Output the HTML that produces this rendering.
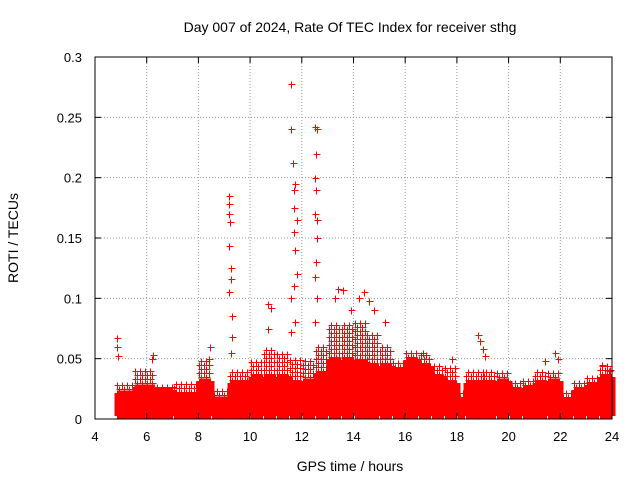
<!DOCTYPE html>
<html><head><meta charset="utf-8"><style>
body{margin:0;background:#fff}
svg{display:block;font-family:"Liberation Sans",sans-serif}
</style></head><body>
<svg id="c" width="640" height="480">
<text x="350" y="32" font-size="14" text-anchor="middle">Day 007 of 2024, Rate Of TEC Index for receiver sthg</text>
<text x="350" y="471" font-size="14" text-anchor="middle">GPS time / hours</text>
<text transform="translate(18,238) rotate(-90)" font-size="14" text-anchor="middle">ROTI / TECUs</text>
<g id="grid"></g><g id="marks"></g>
<rect x="95" y="57" width="517" height="362" fill="none" stroke="#000"/>
<g id="ticks"></g>
</svg>
<script>
const xTicks=[4,6,8,10,12,14,16,18,20,22,24];
const yTicks=[0,0.05,0.1,0.15,0.2,0.25,0.3];
const yTickLabels=["0","0.05","0.1","0.15","0.2","0.25","0.3"];
const binStarts=[4.8,5.5,6.3,7,8,8.5,9.2,10,10.5,11,11.5,12,12.5,13,13.5,14,14.5,15,15.5,16,16.5,17,17.5,18,18.3,19,19.5,20,20.5,21,21.5,22,22.5,23,23.5];
const denseTops=[0.022,0.027,0.024,0.02,0.032,0.017,0.03,0.035,0.035,0.035,0.03,0.032,0.037,0.049,0.049,0.047,0.044,0.044,0.041,0.049,0.044,0.035,0.03,0.016,0.03,0.03,0.032,0.024,0.026,0.03,0.032,0.016,0.024,0.028,0.035];
const sparseTops=[0.03,0.04,0.028,0.03,0.05,0.025,0.04,0.05,0.06,0.055,0.05,0.05,0.06,0.08,0.08,0.08,0.07,0.06,0.05,0.055,0.055,0.045,0.045,0.025,0.04,0.04,0.04,0.032,0.035,0.04,0.04,0.025,0.032,0.035,0.045];
const outT=[4.85,4.85,4.9,6.2,6.25,8.4,8.45,9.2,9.2,9.2,9.22,9.2,9.25,9.25,9.2,9.3,9.3,9.25,10.7,10.8,10.7,11.6,11.6,11.65,11.7,11.75,11.7,11.8,11.7,11.75,11.8,11.7,11.6,11.75,11.6,12.5,12.6,12.55,12.5,12.55,12.5,12.6,12.6,12.55,12.5,12.6,12.5,13.3,13.4,13.6,14.2,14.4,14.6,14.8,15.2,13.9,18.8,18.9,19,19.1,21.4,21.8,21.9,23.6,23.9,16.7,17.8];
const outV=[0.067,0.06,0.052,0.05,0.053,0.05,0.06,0.185,0.178,0.17,0.163,0.143,0.125,0.116,0.105,0.085,0.068,0.055,0.095,0.092,0.075,0.278,0.24,0.212,0.19,0.195,0.175,0.165,0.155,0.14,0.12,0.11,0.1,0.08,0.072,0.242,0.24,0.22,0.2,0.19,0.17,0.165,0.15,0.13,0.118,0.1,0.08,0.1,0.108,0.107,0.1,0.105,0.098,0.09,0.08,0.09,0.07,0.065,0.058,0.052,0.048,0.055,0.05,0.045,0.04,0.055,0.05];
const NS="http://www.w3.org/2000/svg";
const X=t=>95+(t-4)*517/20, Y=v=>419-v*362/0.3;
const grid=document.getElementById('grid'),ticks=document.getElementById('ticks'),marks=document.getElementById('marks');
function mk(tag,attrs,parent){const e=document.createElementNS(NS,tag);for(const k in attrs)e.setAttribute(k,attrs[k]);parent.appendChild(e);return e;}
xTicks.forEach(t=>{const x=X(t);
 if(t>4&&t<24){const g=mk('line',{x1:x,x2:x,y1:57,y2:419,stroke:'#999','stroke-dasharray':'1,2'},grid);
 
 }
 const l=mk('text',{x:x,y:441,'font-size':13,'text-anchor':'middle'},ticks);l.textContent=t;
 
 
 mk('line',{x1:x,x2:x,y1:419,y2:413,stroke:'#000'},ticks);mk('line',{x1:x,x2:x,y1:57,y2:63,stroke:'#000'},ticks);});
yTicks.forEach((v,i)=>{const y=Y(v);
 if(i>0&&i<yTicks.length-1){const g=mk('line',{x1:95,x2:612,y1:y,y2:y,stroke:'#999','stroke-dasharray':'1,2'},grid);
 
 }
 const l=mk('text',{x:82,y:y+5,'font-size':13,'text-anchor':'end'},ticks);l.textContent=yTickLabels[i];
 
 
 mk('line',{x1:95,x2:101,y1:y,y2:y,stroke:'#000'},ticks);mk('line',{x1:612,x2:606,y1:y,y2:y,stroke:'#000'},ticks);});
let d='';
const cross=(x,y)=>{x=Math.round(x)+0.5;y=Math.round(y)+0.5;d+=`M${x-3} ${y}h7M${x} ${y-3}v7`;};
binStarts.forEach((t0,i)=>{const t1=i+1<binStarts.length?binStarts[i+1]:24;
 const x0=X(t0),x1=X(t1),yTop=Y(denseTops[i]),ySp=Y(sparseTops[i]),yBot=Y(0.003);
 for(let x=x0+1;x<x1;x+=1){for(let y=yBot;y>=yTop;y-=1)cross(x,y);}
 let k=0;
 for(let y=yTop-3;y>=ySp;y-=4){k++;for(let x=x0+1+(k%2)*2;x<x1;x+=5)cross(x,y);}
});
outT.forEach((t,i)=>cross(X(t),Y(outV[i])));
const p=mk('path',{d:d,stroke:'#f00','stroke-width':1,fill:'none','shape-rendering':'crispEdges'},marks);


</script>
</body></html>
